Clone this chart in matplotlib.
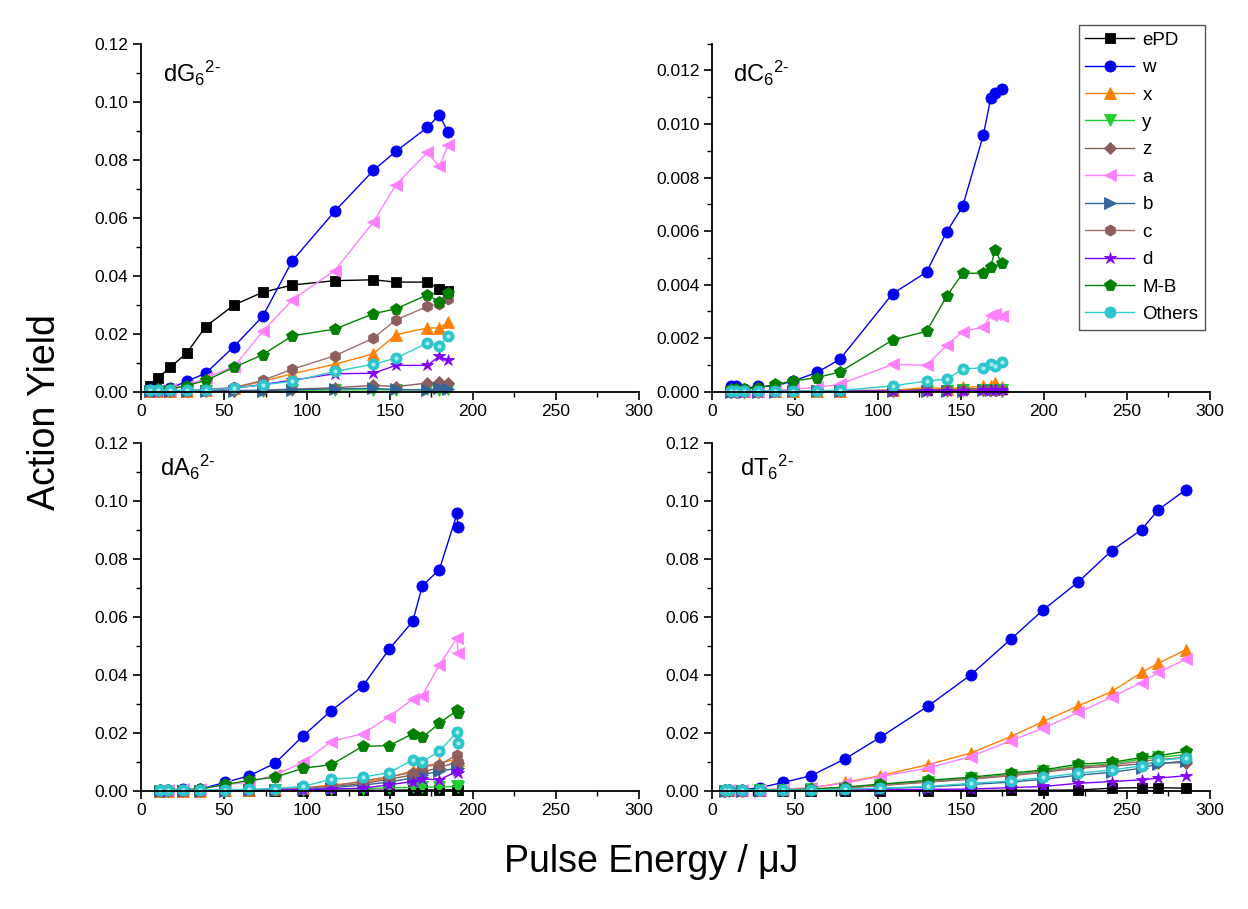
import numpy as np
import matplotlib
matplotlib.use("Agg")
import matplotlib.pyplot as plt
from matplotlib.ticker import MultipleLocator, FormatStrFormatter

plt.rcParams['font.family'] = ['Liberation Sans', 'DejaVu Sans']
plt.rcParams['mathtext.fontset'] = 'custom'
plt.rcParams['mathtext.rm'] = 'Liberation Sans'
plt.rcParams['mathtext.it'] = 'Liberation Sans'

series_names = ['ePD', 'w', 'x', 'y', 'z', 'a', 'b', 'c', 'd', 'M-B', 'Others']

# ---- dG6 2- ----
g_energy = [5.4, 10, 17.5, 27.5, 39, 56, 73.3, 91.2, 116.7, 140, 153.6, 172.5, 179.7, 184.9]
g_ePD = [0.0021, 0.0047, 0.0084, 0.0133, 0.0225, 0.0299, 0.0343, 0.0368, 0.0383, 0.0386, 0.0378, 0.0378, 0.0355, 0.0346]
g_w = [0.0008, 0.0010, 0.0012, 0.0036, 0.0064, 0.0156, 0.0260, 0.0452, 0.0622, 0.0763, 0.0829, 0.0911, 0.0955, 0.0895]
g_x = [0.0002, 0.0002, 0.0003, 0.0004, 0.0006, 0.0013, 0.0036, 0.0062, 0.0095, 0.0131, 0.0197, 0.0220, 0.0220, 0.0239]
g_y = [0.0001, 0.0001, 0.0001, 0.0002, 0.0002, 0.0003, 0.0004, 0.0005, 0.0006, 0.0007, 0.0006, 0.0008, 0.0007, 0.0008]
g_z = [0.0001, 0.0001, 0.0001, 0.0002, 0.0002, 0.0004, 0.0006, 0.0009, 0.0014, 0.0022, 0.0018, 0.0030, 0.0033, 0.0030]
g_a = [0.0003, 0.0005, 0.0010, 0.0020, 0.0048, 0.0087, 0.0208, 0.0317, 0.0418, 0.0585, 0.0714, 0.0825, 0.0777, 0.0849]
g_b = [0.0001, 0.0001, 0.0001, 0.0001, 0.0002, 0.0003, 0.0004, 0.0007, 0.0010, 0.0012, 0.0008, 0.0006, 0.0012, 0.0008]
g_c = [0.0002, 0.0002, 0.0003, 0.0004, 0.0008, 0.0015, 0.0039, 0.0078, 0.0124, 0.0185, 0.0248, 0.0294, 0.0303, 0.0320]
g_d = [0.0001, 0.0001, 0.0002, 0.0003, 0.0005, 0.0012, 0.0025, 0.0040, 0.0062, 0.0064, 0.0091, 0.0091, 0.0122, 0.0110]
g_mb = [0.0005, 0.0008, 0.0010, 0.0021, 0.0039, 0.0084, 0.0128, 0.0193, 0.0216, 0.0269, 0.0286, 0.0334, 0.0311, 0.0342]
g_others = [0.0005, 0.0005, 0.0005, 0.0005, 0.0006, 0.0013, 0.0024, 0.0036, 0.0070, 0.0095, 0.0116, 0.0168, 0.0159, 0.0191]

# ---- dC6 2- ----
c_energy = [11.5, 14.5, 19.0, 27.9, 38.2, 48.8, 63.2, 77.0, 108.8, 129.3, 141.4, 151.0, 163.5, 167.9, 170.5, 174.5]
c_ePD = [0.00003, 0.00003, 0.00003, 0.00003, 0.00003, 0.00003, 0.00004, 0.00004, 0.00005, 0.00008, 0.00008, 0.0001, 0.0001, 0.00012, 0.00012, 0.00012]
c_w = [0.00020, 0.00022, 0.00012, 0.00020, 0.00022, 0.00040, 0.00072, 0.00121, 0.00366, 0.00447, 0.00597, 0.00692, 0.00959, 0.01096, 0.01114, 0.01129]
c_x = [0.00002, 0.00002, 0.00002, 0.00002, 0.00002, 0.00003, 0.00003, 0.00004, 0.00005, 0.00016, 0.00012, 0.00016, 0.00020, 0.00022, 0.00034, 0.00016]
c_y = [0.00001, 0.00001, 0.00001, 0.00001, 0.00002, 0.00002, 0.00002, 0.00003, 0.00003, 0.00004, 0.00004, 0.00005, 0.00005, 0.00006, 0.00006, 0.00006]
c_z = [0.00001, 0.00001, 0.00001, 0.00001, 0.00002, 0.00002, 0.00002, 0.00003, 0.00004, 0.00005, 0.00005, 0.00006, 0.00006, 0.00007, 0.00007, 0.00007]
c_a = [0.00003, 0.00003, 0.00003, 0.00003, 0.00005, 0.00010, 0.00016, 0.00028, 0.00102, 0.00099, 0.00173, 0.00225, 0.00241, 0.00285, 0.00292, 0.00282]
c_b = [0.00001, 0.00001, 0.00001, 0.00001, 0.00001, 0.00002, 0.00002, 0.00002, 0.00003, 0.00003, 0.00004, 0.00004, 0.00005, 0.00005, 0.00005, 0.00005]
c_c = [0.00002, 0.00002, 0.00002, 0.00002, 0.00003, 0.00003, 0.00003, 0.00004, 0.00005, 0.00006, 0.00006, 0.00007, 0.00008, 0.00008, 0.00008, 0.00008]
c_d = [0.00001, 0.00001, 0.00001, 0.00001, 0.00001, 0.00002, 0.00002, 0.00002, 0.00003, 0.00003, 0.00004, 0.00004, 0.00005, 0.00005, 0.00006, 0.00006]
c_mb = [0.00010, 0.00010, 0.00010, 0.00015, 0.00028, 0.00040, 0.00053, 0.00074, 0.00193, 0.00226, 0.00357, 0.00442, 0.00443, 0.00465, 0.00530, 0.00481]
c_others = [0.00003, 0.00003, 0.00003, 0.00003, 0.00003, 0.00003, 0.00004, 0.00005, 0.00022, 0.00040, 0.00047, 0.00085, 0.00090, 0.00102, 0.00096, 0.00111]

# ---- dA6 2- ----
a_energy = [11.4, 16.5, 25.5, 35.5, 50.6, 65.3, 80.7, 97.8, 114.5, 133.5, 149.6, 163.7, 169.5, 179.7, 190.5, 190.8]
a_ePD = [0.0001, 0.0001, 0.0001, 0.0001, 0.0001, 0.0001, 0.0001, 0.0001, 0.0002, 0.0002, 0.0002, 0.0003, 0.0003, 0.0003, 0.0004, 0.0004]
a_w = [0.0003, 0.0003, 0.0006, 0.0006, 0.0029, 0.0052, 0.0095, 0.0190, 0.0276, 0.0360, 0.0489, 0.0584, 0.0707, 0.0762, 0.0957, 0.0909]
a_x = [0.0001, 0.0001, 0.0001, 0.0001, 0.0002, 0.0003, 0.0005, 0.0010, 0.0020, 0.0030, 0.0045, 0.0070, 0.0085, 0.0095, 0.0110, 0.0105]
a_y = [0.0001, 0.0001, 0.0001, 0.0001, 0.0001, 0.0002, 0.0003, 0.0004, 0.0006, 0.0008, 0.0010, 0.0012, 0.0013, 0.0013, 0.0015, 0.0014]
a_z = [0.0001, 0.0001, 0.0001, 0.0001, 0.0002, 0.0003, 0.0006, 0.0010, 0.0015, 0.0025, 0.0040, 0.0055, 0.0065, 0.0080, 0.0100, 0.0095]
a_a = [0.0003, 0.0003, 0.0005, 0.0008, 0.0020, 0.0030, 0.0055, 0.0098, 0.0170, 0.0197, 0.0256, 0.0316, 0.0328, 0.0434, 0.0527, 0.0475]
a_b = [0.0001, 0.0001, 0.0001, 0.0001, 0.0001, 0.0002, 0.0003, 0.0005, 0.0010, 0.0020, 0.0030, 0.0045, 0.0055, 0.0068, 0.0078, 0.0077]
a_c = [0.0001, 0.0001, 0.0001, 0.0001, 0.0002, 0.0004, 0.0007, 0.0010, 0.0015, 0.0034, 0.0049, 0.0063, 0.0084, 0.0090, 0.0124, 0.0101]
a_d = [0.0001, 0.0001, 0.0001, 0.0001, 0.0001, 0.0002, 0.0003, 0.0004, 0.0006, 0.0009, 0.0021, 0.0032, 0.0041, 0.0038, 0.0068, 0.0063]
a_mb = [0.0002, 0.0002, 0.0004, 0.0006, 0.0022, 0.0036, 0.0047, 0.0078, 0.0090, 0.0153, 0.0156, 0.0197, 0.0184, 0.0233, 0.0278, 0.0268]
a_others = [0.0003, 0.0003, 0.0003, 0.0003, 0.0004, 0.0005, 0.0008, 0.0015, 0.0040, 0.0047, 0.0063, 0.0107, 0.0101, 0.0136, 0.0204, 0.0164]

# ---- dT6 2- ----
t_energy = [7.8, 10.4, 17.9, 28.9, 43.0, 59.6, 80.1, 101.2, 129.9, 155.8, 180.1, 199.6, 220.7, 240.8, 258.8, 268.9, 285.5]
t_ePD = [0.0001, 0.0001, 0.0001, 0.0001, 0.0001, 0.0001, 0.0001, 0.0001, 0.0001, 0.0001, 0.0002, 0.0002, 0.0003, 0.0009, 0.0011, 0.0011, 0.0009]
t_w = [0.0002, 0.0002, 0.0003, 0.0011, 0.0029, 0.0052, 0.0110, 0.0184, 0.0291, 0.0399, 0.0523, 0.0624, 0.0720, 0.0828, 0.0900, 0.0969, 0.1038]
t_x = [0.0003, 0.0003, 0.0003, 0.0004, 0.0006, 0.0010, 0.0029, 0.0052, 0.0090, 0.0130, 0.0187, 0.0239, 0.0293, 0.0342, 0.0408, 0.0440, 0.0486]
t_y = [0.0001, 0.0001, 0.0001, 0.0002, 0.0003, 0.0005, 0.0011, 0.0020, 0.0032, 0.0043, 0.0056, 0.0068, 0.0085, 0.0092, 0.0110, 0.0115, 0.0125]
t_z = [0.0001, 0.0001, 0.0001, 0.0002, 0.0003, 0.0005, 0.0010, 0.0018, 0.0030, 0.0040, 0.0052, 0.0064, 0.0078, 0.0085, 0.0093, 0.0096, 0.0097]
t_a = [0.0003, 0.0003, 0.0003, 0.0004, 0.0006, 0.0010, 0.0027, 0.0049, 0.0078, 0.0118, 0.0173, 0.0216, 0.0270, 0.0323, 0.0373, 0.0408, 0.0454]
t_b = [0.0001, 0.0001, 0.0001, 0.0001, 0.0002, 0.0003, 0.0005, 0.0008, 0.0013, 0.0022, 0.0030, 0.0040, 0.0054, 0.0064, 0.0078, 0.0094, 0.0102]
t_c = [0.0001, 0.0001, 0.0001, 0.0002, 0.0003, 0.0005, 0.0011, 0.0019, 0.0031, 0.0042, 0.0054, 0.0066, 0.0082, 0.0090, 0.0102, 0.0108, 0.0115]
t_d = [0.0001, 0.0001, 0.0001, 0.0001, 0.0001, 0.0002, 0.0003, 0.0004, 0.0005, 0.0006, 0.0011, 0.0015, 0.0026, 0.0032, 0.0038, 0.0044, 0.0052]
t_mb = [0.0002, 0.0002, 0.0002, 0.0003, 0.0004, 0.0006, 0.0013, 0.0023, 0.0036, 0.0047, 0.0061, 0.0072, 0.0092, 0.0098, 0.0115, 0.0121, 0.0136]
t_others = [0.0003, 0.0003, 0.0003, 0.0003, 0.0003, 0.0003, 0.0006, 0.0009, 0.0015, 0.0026, 0.0034, 0.0046, 0.0061, 0.0072, 0.0086, 0.0105, 0.0113]

# line colour, marker, marker colour, marker size
styles = {
    'ePD': ('black', 's', 'black', 7),
    'w': ('#0000F0', 'o', '#0000F0', 8),
    'x': ('#FF8000', '^', '#FF8000', 8),
    'y': ('#22CC33', 'v', '#22CC33', 8),
    'z': ('#8B5E5E', 'D', '#8B5E5E', 6),
    'a': ('#FF80FF', '<', '#FF80FF', 8),
    'b': ('#336699', '>', '#336699', 8),
    'c': ('#A07070', 'h', '#8E5E5E', 8),
    'd': ('#8000FF', '*', '#8000FF', 9),
    'M-B': ('#008000', 'p', '#008000', 8.5),
    'Others': ('#33CCCC', 'o', '#2EC4CC', 8),
}

panels = [
    ('dG', g_energy, [g_ePD, g_w, g_x, g_y, g_z, g_a, g_b, g_c, g_d, g_mb, g_others]),
    ('dC', c_energy, [c_ePD, c_w, c_x, c_y, c_z, c_a, c_b, c_c, c_d, c_mb, c_others]),
    ('dA', a_energy, [a_ePD, a_w, a_x, a_y, a_z, a_a, a_b, a_c, a_d, a_mb, a_others]),
    ('dT', t_energy, [t_ePD, t_w, t_x, t_y, t_z, t_a, t_b, t_c, t_d, t_mb, t_others]),
]

fig = plt.figure(figsize=(12.48, 9.09), dpi=100)
positions = [
    [0.113, 0.569, 0.399, 0.383],
    [0.5705, 0.569, 0.399, 0.383],
    [0.113, 0.130, 0.399, 0.383],
    [0.5705, 0.130, 0.399, 0.383],
]
label_pos = [(0.044, 0.89), (0.042, 0.89), (0.038, 0.903), (0.056, 0.903)]

handles = []
for i, (name, energy, values) in enumerate(panels):
    ax = fig.add_axes(positions[i])
    for sname, yv in zip(series_names, values):
        lc, mk, mc, ms = styles[sname]
        ln, = ax.plot(energy, yv, color=lc, lw=1.0, marker=mk, markersize=ms,
                      markerfacecolor=mc, markeredgecolor=mc, markeredgewidth=0.6,
                      clip_on=False, label=sname)
        if sname == 'Others':
            # small highlight for the shaded ball markers
            ax.plot(energy, yv, ls='none', marker='o', markersize=3,
                    markerfacecolor='#A8EEF0', markeredgecolor='none', clip_on=False)
        if i == 1:
            handles.append(ln)

    ax.set_xlim(0, 300)
    ax.xaxis.set_major_locator(MultipleLocator(50))
    ax.xaxis.set_minor_locator(MultipleLocator(25))
    if name == 'dC':
        ax.set_ylim(0, 0.013)
        ax.yaxis.set_major_locator(MultipleLocator(0.002))
        ax.yaxis.set_minor_locator(MultipleLocator(0.001))
        ax.yaxis.set_major_formatter(FormatStrFormatter('%.3f'))
    else:
        ax.set_ylim(0, 0.12)
        ax.yaxis.set_major_locator(MultipleLocator(0.02))
        ax.yaxis.set_minor_locator(MultipleLocator(0.01))
        ax.yaxis.set_major_formatter(FormatStrFormatter('%.2f'))

    ax.spines['top'].set_visible(False)
    ax.spines['right'].set_visible(False)
    ax.spines['left'].set_linewidth(1.3)
    ax.spines['bottom'].set_linewidth(1.3)
    ax.tick_params(which='major', direction='out', length=6, width=1.2, labelsize=12.5, pad=3)
    ax.tick_params(which='minor', direction='out', length=3.5, width=1.0)

    ax.text(label_pos[i][0], label_pos[i][1], name + r'$_6{}^{\mathrm{2\text{-}}}$',
            transform=ax.transAxes, fontsize=17, va='baseline', ha='left')

fig.legend(handles=handles, labels=series_names, loc='upper right',
           bbox_to_anchor=(0.9655, 0.9725), fontsize=13.5, frameon=True,
           fancybox=False, edgecolor='#555555', framealpha=1, handlelength=2.6,
           handletextpad=0.45, labelspacing=0.55, borderpad=0.35, borderaxespad=0)

fig.text(0.036, 0.547, 'Action Yield', rotation=90, fontsize=27, ha='center', va='center')
fig.text(0.522, 0.052, 'Pulse Energy / \u03bcJ', fontsize=27, ha='center', va='center')

fig.savefig('out.png', dpi=100, facecolor='white')
